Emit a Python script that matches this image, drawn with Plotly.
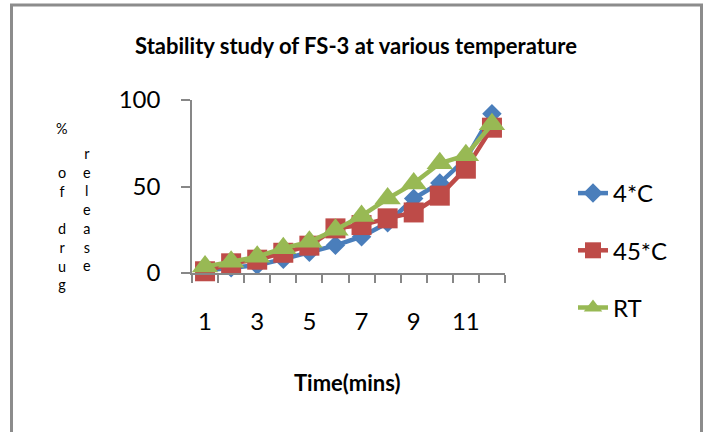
import plotly.graph_objects as go

times = list(range(1, 13))
tick_vals = [1, 3, 5, 7, 9, 11]
tick_text = ["1", "3", "5", "7", "9", "11"]
y_ticks = [0, 50, 100]

s_4c = [1.5, 3, 4.5, 8, 12, 16, 21, 29, 43, 52, 66, 92]
s_45c = [1, 5.6, 7.7, 11.7, 15.8, 25.8, 27.7, 31.6, 35, 44.7, 60.3, 84]
s_rt = [3.7, 6.5, 9.4, 14.3, 18, 25, 33, 43, 51.8, 63.4, 68, 86]

W, H = 707, 432
L, R, T, B = 192, 505, 100, 273
FONT = "Lato"

def px(x):
    return (x - L) / (R - L)

def py(y):
    return (B - y) / (B - T)

fig = go.Figure()
fig.add_trace(go.Scatter(x=times, y=s_4c, name="4*C", mode="lines+markers",
                         line=dict(color="#4A7EBB", width=4.5),
                         marker=dict(symbol="diamond", size=15, color="#4A7EBB"),
                         legendgroup="a"))
fig.add_trace(go.Scatter(x=times, y=s_45c, name="45*C", mode="lines+markers",
                         line=dict(color="#BE4B48", width=4.5),
                         marker=dict(symbol="square", size=20, color="#BE4B48"),
                         legendgroup="b"))
fig.add_trace(go.Scatter(x=times, y=s_rt, name="RT", mode="lines+markers",
                         line=dict(color="#98B954", width=4.5),
                         marker=dict(symbol="triangle-up", size=23, color="#98B954"),
                         legendgroup="c"))

fig.update_traces(cliponaxis=False)

fig.update_layout(
    width=W, height=H,
    margin=dict(l=L, r=W - R, t=T, b=H - B, pad=0),
    paper_bgcolor="white", plot_bgcolor="white",
    font=dict(family=FONT, color="#000000"),
    title=dict(text="<b>Stability study of FS-3 at various temperature</b>",
               xref="container", yref="container", x=356 / W, y=1 - 46 / H,
               xanchor="center", yanchor="middle",
               font=dict(size=22, family=FONT, color="#000000")),
    showlegend=True,
    legend=dict(x=px(573), y=py(171), xanchor="left", yanchor="top",
                font=dict(size=24, family=FONT, color="#000000"),
                traceorder="grouped", tracegroupgap=23,
                bgcolor="rgba(0,0,0,0)", itemwidth=30),
)

fig.update_xaxes(
    range=[0.5, 12.5], showgrid=False, zeroline=False,
    showline=True, linecolor="#878787", linewidth=1.5,
    tickmode="array", tickvals=tick_vals, ticktext=tick_text,
    ticks="", ticklabelstandoff=26,
    tickfont=dict(size=24, family=FONT, color="#000000"),
    minor=dict(tickvals=[i + 0.5 for i in range(0, 13)], ticks="outside",
               ticklen=8, tickcolor="#878787", tickwidth=1.5, showgrid=False),
    title=None,
    automargin=False,
)
fig.update_yaxes(
    range=[0, 100], showgrid=False, zeroline=False,
    showline=True, linecolor="#878787", linewidth=1.5,
    tickmode="array", tickvals=y_ticks,
    ticks="outside", ticklen=9, tickcolor="#878787", tickwidth=1.5,
    ticklabelstandoff=16,
    tickfont=dict(size=24, family=FONT, color="#000000"),
    automargin=False,
)

# x-axis title placed as annotation at its pixel location
fig.add_annotation(text="<b>Time(mins)</b>", x=px(347), y=py(382), xref="paper", yref="paper",
                   showarrow=False, xanchor="center", yanchor="middle",
                   font=dict(size=22, family=FONT, color="#000000"))

# stacked y-axis title
yfont = dict(size=14.4, family=FONT, color="#000000")
fig.add_annotation(text="%", x=px(61.7), y=py(128), xref="paper", yref="paper",
                   showarrow=False, xanchor="center", yanchor="middle", font=yfont)
fig.add_annotation(text="o<br>f<br> <br>d<br>r<br>u<br>g", x=px(61.7), y=py(228),
                   xref="paper", yref="paper", showarrow=False,
                   xanchor="center", yanchor="middle", font=yfont)
fig.add_annotation(text="r<br>e<br>l<br>e<br>a<br>s<br>e", x=px(86.7), y=py(209),
                   xref="paper", yref="paper", showarrow=False,
                   xanchor="center", yanchor="middle", font=yfont)

# outer chart frame (left, top, right edges)
frame_col = "#8C8C8C"
fig.add_shape(type="path",
              path=f"M {px(11.5)} {py(440)} L {px(11.5)} {py(5)} L {px(701.5)} {py(5)} L {px(701.5)} {py(440)}",
              xref="paper", yref="paper", line=dict(color=frame_col, width=3), layer="below")

fig.write_html("out.html")
